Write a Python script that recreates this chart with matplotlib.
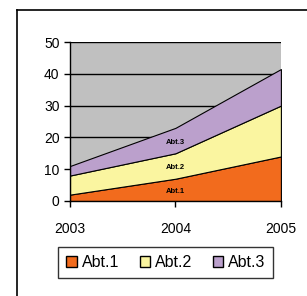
import numpy as np
import matplotlib
matplotlib.use('Agg')
import matplotlib.pyplot as plt
from matplotlib.lines import Line2D
from matplotlib.patches import Patch

years = [2003, 2004, 2005]
abt1 = [2, 7, 14]
abt2 = [6, 8, 16]
abt3 = [3, 8, 11.5]
labels = ['Abt.1', 'Abt.2', 'Abt.3']
colors = ['#F26B1D', '#FAF5A0', '#BBA0CC']

plt.rcParams['font.family'] = ['Liberation Sans', 'DejaVu Sans']

fig = plt.figure(figsize=(3.07, 2.96), dpi=100)
ax = fig.add_axes([0.228, 0.321, 0.687, 0.537])
ax.set_facecolor('#C0C0C0')

x = np.arange(len(years))
ax.set_axisbelow(True)
ax.yaxis.grid(True, color='black', linewidth=1)
ax.stackplot(x, abt1, abt2, abt3, colors=colors, edgecolor='black', linewidth=0.8)

# labels inside the bands at 2004
base = 0
for vals, lab in zip([abt1, abt2, abt3], labels):
    ax.text(1, base + vals[1] / 2 - 0.5, lab, ha='center', va='center',
            fontsize=5.5, fontweight='bold')
    base += vals[1]

ax.set_xlim(0, 2)
ax.set_ylim(0, 50)
ax.set_xticks(x)
ax.set_xticklabels([str(y) for y in years])
ax.set_yticks([0, 10, 20, 30, 40, 50])
ax.tick_params(axis='both', labelsize=10, length=4, width=1, direction='out')
ax.tick_params(axis='x', pad=11)
for side in ['top', 'right']:
    ax.spines[side].set_visible(False)
ax.spines['left'].set_linewidth(1)
ax.spines['bottom'].set_linewidth(1)

handles = [Patch(facecolor=c, edgecolor='black', linewidth=1) for c in colors]
leg = ax.legend(handles, labels, loc='upper center', bbox_to_anchor=(0.455, -0.29),
                ncol=3, fontsize=11.5, frameon=True, fancybox=False, handlelength=0.65,
                handleheight=0.65, handletextpad=0.3, columnspacing=1.3,
                borderpad=0.5, borderaxespad=0)
leg.get_frame().set_edgecolor('black')
leg.get_frame().set_linewidth(1)

# outer chart frame (left and top edges visible)
fig.add_artist(Line2D([17 / 307, 17 / 307], [0, 1 - 10 / 296], color='black', linewidth=1.2))
fig.add_artist(Line2D([17 / 307, 1], [1 - 10 / 296, 1 - 10 / 296], color='black', linewidth=1.2))

fig.savefig('out.png', dpi=100)
